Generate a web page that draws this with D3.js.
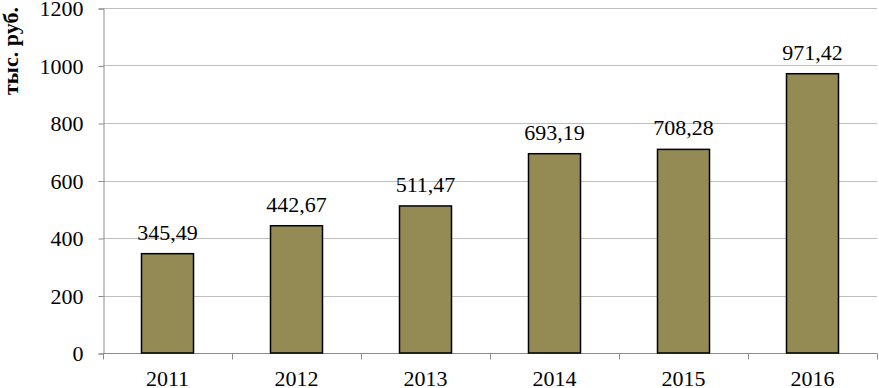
<!DOCTYPE html>
<html><head><meta charset="utf-8">
<script src="https://cdn.jsdelivr.net/npm/d3@7"></script>
<style>body{margin:0;background:#fff}svg{display:block}</style>
</head><body><svg id="c" width="879" height="388"></svg>
<script>
const categories = ["2011","2012","2013","2014","2015","2016"];
const values = [345.49, 442.67, 511.47, 693.19, 708.28, 971.42];
const labels = ["345,49","442,67","511,47","693,19","708,28","971,42"];
const yTicks = [0,200,400,600,800,1000,1200];
const yTitle = "тыс. руб.";

const FONT = "'Liberation Serif', 'Times New Roman', serif";
const FS = 22;
const svg = d3.select("#c");
const pL = 103, pR = 877, pT = 8, pB = 353;
const x = d3.scaleBand().domain(categories).range([pL, pR]).paddingInner(0).paddingOuter(0);
const y = d3.scaleLinear().domain([0,1200]).range([pB, pT]);

// gridlines
svg.append("g").selectAll("line").data(yTicks.filter(d=>d>0)).join("line")
  .attr("x1", pL).attr("x2", pR)
  .attr("y1", d=>Math.round(y(d))+0.5).attr("y2", d=>Math.round(y(d))+0.5)
  .attr("stroke", "#bfbfbf").attr("stroke-width", 1);

// y axis
const ya = svg.append("g").attr("transform", `translate(${pL+0.5},0.5)`)
  .call(d3.axisLeft(y).tickValues(yTicks).tickSize(5).tickPadding(15).tickFormat(d3.format("d")));
ya.attr("font-family", FONT).attr("font-size", FS);
ya.select(".domain").attr("stroke", "#8c8c8c");
ya.selectAll(".tick line").attr("stroke", "#8c8c8c");
ya.selectAll("text").style("font-family", FONT).style("font-size", FS + "px").attr("fill", "#000");

// x axis
const xa = svg.append("g").attr("transform", `translate(0,${pB+0.5})`);
xa.append("line").attr("x1", pL).attr("x2", pR).attr("stroke", "#8c8c8c");
xa.selectAll("line.t").data(d3.range(categories.length+1)).join("line").attr("class","t")
  .attr("x1", i=>Math.round(pL + i*x.bandwidth())+0.5).attr("x2", i=>Math.round(pL + i*x.bandwidth())+0.5)
  .attr("y1", 0).attr("y2", 6).attr("stroke", "#8c8c8c");
xa.selectAll("text").data(categories).join("text")
  .attr("x", d=>x(d)+x.bandwidth()/2).attr("y", 32)
  .attr("text-anchor","middle").style("font-family", FONT).style("font-size", FS + "px").text(d=>d);

// bars
const bw = 52;
svg.append("g").selectAll("rect").data(categories).join("rect")
  .attr("x", d=>x(d)+x.bandwidth()/2-bw/2)
  .attr("y", (d,i)=>y(values[i]))
  .attr("width", bw)
  .attr("height", (d,i)=>pB-y(values[i]))
  .attr("fill", "#948a54").attr("stroke", "#000").attr("stroke-width", 1.5);

// data labels
svg.append("g").selectAll("text").data(categories).join("text")
  .attr("x", d=>x(d)+x.bandwidth()/2)
  .attr("y", (d,i)=>y(values[i])-14)
  .attr("text-anchor","middle").style("font-family", FONT).style("font-size", FS + "px").text((d,i)=>labels[i]);

// y title
svg.append("text").attr("transform", "translate(18,51) rotate(-90)")
  .attr("text-anchor","middle").style("font-family", FONT).style("font-size", FS + "px")
  .attr("font-weight","bold").text(yTitle);
</script></body></html>
